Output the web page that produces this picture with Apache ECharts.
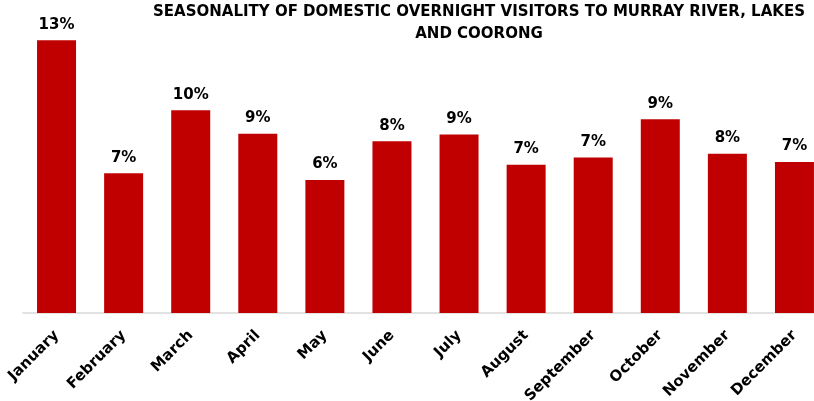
<!DOCTYPE html>
<html>
<head>
<meta charset="utf-8">
<title>Seasonality of domestic overnight visitors</title>
<script src="https://cdn.jsdelivr.net/npm/echarts@6/dist/echarts.min.js"></script>
<style>
  html, body { margin: 0; padding: 0; background: #ffffff; overflow: hidden; }
  #chart { width: 814px; height: 401px; }
</style>
</head>
<body>
<div id="chart"></div>
<script>
// Month of travel
const months = ['January', 'February', 'March', 'April', 'May', 'June',
  'July', 'August', 'September', 'October', 'November', 'December'];

// Share of the year's domestic overnight visitors in each month
const visitorShare = [0.1308, 0.0670, 0.0972, 0.0859, 0.0638, 0.0824,
  0.0856, 0.0711, 0.0746, 0.0929, 0.0763, 0.0724];

const titleLines = ['SEASONALITY OF DOMESTIC OVERNIGHT VISITORS TO MURRAY RIVER, LAKES', 'AND COORONG'];

const chart = echarts.init(document.getElementById('chart'), null, { renderer: 'canvas' });

chart.setOption({
  backgroundColor: '#ffffff',
  animation: false,
  graphic: [{
    type: 'text',
    x: 479,
    y: 1,
    style: {
      text: titleLines.join('\n'),
      textAlign: 'center',
      textVerticalAlign: 'top',
      fill: '#000000',
      font: 'bold 15px "DejaVu Sans", sans-serif',
      lineHeight: 22
    }
  }],
  // the plot runs slightly past the right edge, so the last bar is cut off there
  grid: { left: 23, top: 21, right: -14, bottom: 88, containLabel: false, outerBoundsMode: 'none' },
  xAxis: {
    type: 'category',
    data: months,
    axisLine: { show: true, lineStyle: { color: '#d9d9d9', width: 1.5 } },
    axisTick: { show: false },
    axisLabel: {
      rotate: 45,
      interval: 0,
      margin: 20,
      color: '#000000',
      fontFamily: '"DejaVu Sans", sans-serif',
      fontWeight: 'bold',
      fontSize: 15
    }
  },
  yAxis: {
    type: 'value',
    min: 0,
    max: 0.14,
    show: false,
    splitLine: { show: false }
  },
  series: [{
    type: 'bar',
    data: visitorShare,
    barWidth: 39,
    itemStyle: { color: '#c00000' },
    label: {
      show: true,
      position: 'top',
      distance: 8,
      color: '#000000',
      fontFamily: '"DejaVu Sans", sans-serif',
      fontWeight: 'bold',
      fontSize: 15,
      formatter: p => Math.round(p.value * 100) + '%'
    }
  }]
});
</script>
</body>
</html>
